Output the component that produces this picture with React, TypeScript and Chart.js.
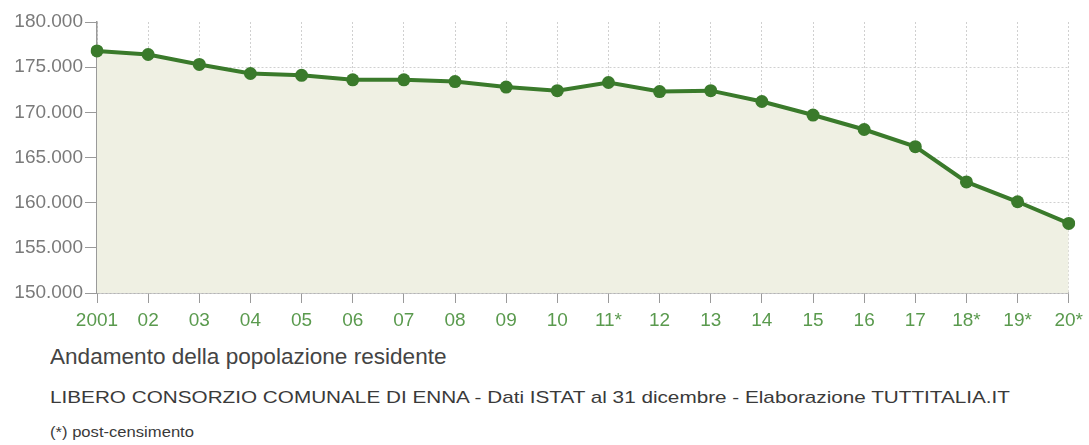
import React, { useEffect, useRef } from "react";
import { Chart, registerables } from "chart.js";

Chart.register(...registerables);

const years = ["2001", "02", "03", "04", "05", "06", "07", "08", "09", "10", "11*", "12", "13", "14", "15", "16", "17", "18*", "19*", "20*"];
const population = [176800, 176400, 175300, 174300, 174100, 173600, 173600, 173400, 172800, 172400, 173300, 172300, 172400, 171200, 169700, 168100, 166200, 162300, 160100, 157700];
const yTicks = [150000, 155000, 160000, 165000, 170000, 175000, 180000];

const title = "Andamento della popolazione residente";
const subtitle = "LIBERO CONSORZIO COMUNALE DI ENNA - Dati ISTAT al 31 dicembre - Elaborazione TUTTITALIA.IT";
const note = "(*) post-censimento";

const FONT = "'Liberation Sans', Arial, Helvetica, sans-serif";

function fmt(v: number): string {
  const s = Math.round(v).toString();
  return s.replace(/\B(?=(\d{3})+(?!\d))/g, ".");
}

export default function App() {
  const ref = useRef<HTMLCanvasElement | null>(null);

  useEffect(() => {
    if (!ref.current) return;
    const chart = new Chart(ref.current, {
      type: "line",
      data: {
        labels: years,
        datasets: [
          {
            data: population,
            borderColor: "#3a7a2b",
            backgroundColor: "#eff0e3",
            borderWidth: 4,
            pointRadius: 6.5,
            pointBackgroundColor: "#3a7a2b",
            pointBorderColor: "#3a7a2b",
            pointBorderWidth: 0,
            fill: "start",
            tension: 0,
          },
        ],
      },
      options: {
        responsive: false,
        animation: false,
        devicePixelRatio: 1,
        layout: { padding: { top: 22, right: 17, left: 0, bottom: 0 } },
        plugins: { legend: { display: false }, tooltip: { enabled: false } },
        scales: {
          x: {
            offset: false,
            grid: {
              color: "#d0d0d0",
              tickColor: "#9a9a9a",
              tickLength: 10,
              drawOnChartArea: true,
            },
            border: { display: true, color: "#9a9a9a", width: 1.5, dash: [2, 2] },
            ticks: {
              color: "#5a9a4e",
              font: { family: FONT, size: 19 },
              padding: 6,
              maxRotation: 0,
              autoSkip: false,
            },
            afterFit: (s: any) => {
              s.height = 47;
            },
          },
          y: {
            min: 150000,
            max: 180000,
            afterBuildTicks: (s: any) => {
              s.ticks = yTicks.map((v) => ({ value: v }));
            },
            grid: {
              color: (c: any) => (c.tick && c.tick.value === 180000 ? "rgba(0,0,0,0)" : "#d0d0d0"),
              tickColor: "#9a9a9a",
              tickLength: 12,
            },
            border: { display: true, color: "#9a9a9a", width: 1.5, dash: [2, 2] },
            ticks: {
              color: "#7a7a7a",
              font: { family: FONT, size: 19 },
              padding: 2,
              callback: (v: any) => fmt(Number(v)),
            },
            afterFit: (s: any) => {
              s.width = 97;
            },
          },
        },
      },
    });
    return () => chart.destroy();
  }, []);

  const textBase: React.CSSProperties = {
    position: "absolute",
    left: 50,
    whiteSpace: "nowrap",
    transformOrigin: "0 50%",
  };

  return (
    <div style={{ position: "absolute", left: 0, top: 0, width: 1089, height: 445, background: "#fff", fontFamily: FONT, overflow: "hidden" }}>
      <canvas ref={ref} width={1089} height={340} style={{ position: "absolute", left: 0, top: 0 }} />
      <div style={{ ...textBase, top: 344, fontSize: 22, color: "#444", transform: "scaleX(1.026)" }}>{title}</div>
      <div style={{ ...textBase, top: 388, fontSize: 17, color: "#3a3a3a", transform: "scaleX(1.218)" }}>{subtitle}</div>
      <div style={{ ...textBase, top: 423, fontSize: 15, color: "#3a3a3a", transform: "scaleX(1.107)" }}>{note}</div>
    </div>
  );
}
